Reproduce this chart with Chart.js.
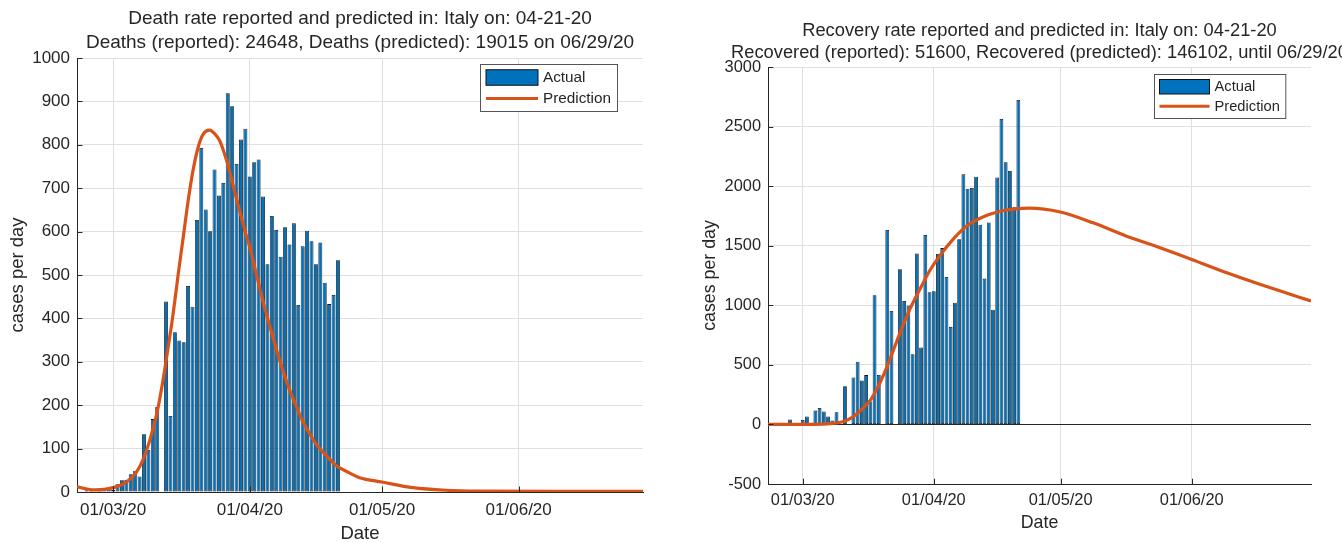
<!DOCTYPE html>
<html>
<head>
<meta charset="utf-8">
<title>Italy deaths and recoveries</title>
<script src="https://cdn.jsdelivr.net/npm/chart.js@4.4.1/dist/chart.umd.min.js"></script>
<style>
  html, body { margin: 0; padding: 0; background: #fff; }
  body { width: 1342px; height: 543px; position: relative; overflow: hidden; }
  .panel { position: absolute; top: 0; height: 543px; }
  #deathsBox { left: 0; width: 671px; }
  #recovBox { left: 694px; width: 648px; }
</style>
</head>
<body>
<div class="panel" id="deathsBox"><canvas id="deaths"></canvas></div>
<div class="panel" id="recovBox"><canvas id="recov"></canvas></div>
<script>
/* global Chart */

// ---------------------- Data ----------------------
// x is measured in days, day 0 = 1 March 2020; bars start on 22 Feb (day -8)
const firstBarDay = -8;

const monthTickDays = [0, 31, 61, 92];
const monthTickLabels = ["01/03/20", "01/04/20", "01/05/20", "01/06/20"];

// daily deaths, 22 Feb .. 21 Apr
const deathsDaily = [
  1, 1, 4, 3, 2, 5, 4, 8,
  5, 18, 27, 28, 41, 49, 36, 133, 97, 168, 196, 0, 439, 175, 368, 349, 345, 475,
  427, 627, 793, 651, 601, 743, 683, 712, 919, 889, 756, 812, 837,
  727, 760, 766, 681, 525, 636, 604, 542, 610, 570, 619, 431, 566, 602, 578,
  525, 575, 482, 433, 454, 534
];

// daily recoveries, 22 Feb .. 21 Apr
const recoveredDaily = [
  1, 1, 0, 0, 2, 42, 1, 0,
  37, 66, 11, 116, 138, 109, 66, 33, 102, 0, 321, 0, 394, 527, 369, 414, 192, 1084,
  415, 0, 1632, 952, 0, 1302, 1036, 999, 589, 1434, 646, 1590, 1109,
  1118, 1431, 1480, 1238, 819, 1022, 1555, 2099, 1979, 1985, 2079, 1677, 1224, 1695, 962,
  2072, 2563, 2200, 2128, 1822, 2723
];

// fitted death-rate curve
const deathPredDays = [
  -8.2, -6, -4, -2, 0, 1.5, 3, 5.3, 7, 8.3, 10, 11.3, 12.5, 13.6, 14.8, 15.9, 17, 18.1,
  19.3, 20.4, 21.9, 23, 24.2, 25.3, 26.4, 27.5, 28.7, 29.8, 31, 32.1, 33.2, 34.3, 35.5,
  37, 38.5, 40, 41.6, 43, 44.6, 46, 47.6, 49, 50.6, 53.6, 55.9, 61, 68, 75.5, 83, 100, 120.2
];
const deathPredValues = [
  12, 7, 5, 6, 10, 15, 23, 46, 80, 119, 185, 257, 335, 410, 505, 587, 670, 740,
  795, 824, 834, 826, 809, 778, 740, 695, 648, 605, 564, 518, 472, 427, 383,
  330, 280, 236, 196, 163, 134, 111, 92, 77, 61, 44, 33, 23, 10, 4, 2, 1.5, 1.5
];

// fitted recovery-rate curve
const recPredDays = [
  -8.2, 0, 5.8, 9.7, 11.5, 12.9, 14.5, 16, 17.2, 18.4, 19.6, 20.7, 21.9, 23.1, 24.3,
  25.4, 27.8, 30.1, 32.5, 35.7, 38.8, 43.6, 48.3, 53.5, 60.9, 68.7, 76.6, 84.5, 92,
  100.3, 108.1, 120.2
];
const recPredValues = [
  0, 1, 5, 25, 55, 92, 145, 204, 275, 358, 455, 553, 665, 777, 880,
  972, 1140, 1294, 1419, 1559, 1665, 1755, 1800, 1815, 1783, 1692, 1580, 1483, 1385,
  1273, 1176, 1037
];

// ---------------------- Styles ----------------------
const FONT = '"Liberation Sans", Arial, Helvetica, sans-serif';
const TEXT = "#262626";
const AXIS = "#262626";
const GRID = "#dfdfdf";
const BAR_BLUE = "#0072BD";
const BAR_EDGE = "#111111";
const LINE_ORANGE = "#D95319";

Chart.defaults.font.family = FONT;
Chart.defaults.color = TEXT;

const toPoints = (xs, ys) => ys.map((y, i) => ({ x: xs[i], y }));
const barPoints = (values) => values.map((y, i) => ({ x: firstBarDay + i, y }));

// ---------------------- Plugins ----------------------

// title centred on the plot area (matlab style)
const plotTitle = {
  id: "plotTitle",
  afterDraw(chart, _args, opts) {
    const { ctx, chartArea: a } = chart;
    ctx.save();
    ctx.font = `${opts.size}px ${FONT}`;
    ctx.fillStyle = TEXT;
    ctx.textAlign = "center";
    ctx.textBaseline = "middle";
    const cx = (a.left + a.right) / 2;
    opts.lines.forEach((t, i) => ctx.fillText(t, cx, opts.y[i]));
    ctx.restore();
  }
};

// short ticks pointing into the plot
const inwardTicks = {
  id: "inwardTicks",
  afterDatasetsDraw(chart, _args, opts) {
    const { ctx, chartArea: a, scales: { x, y } } = chart;
    const len = opts.len || 5;
    ctx.save();
    ctx.strokeStyle = AXIS;
    ctx.lineWidth = 1;
    ctx.beginPath();
    x.ticks.forEach(t => {
      const px = Math.round(x.getPixelForValue(t.value)) + 0.5;
      ctx.moveTo(px, a.bottom);
      ctx.lineTo(px, a.bottom - len);
    });
    y.ticks.forEach(t => {
      const py = Math.round(y.getPixelForValue(t.value)) + 0.5;
      ctx.moveTo(a.left, py);
      ctx.lineTo(a.left + len, py);
    });
    ctx.stroke();
    ctx.restore();
  }
};

// boxed legend in the north-east corner
const boxLegend = {
  id: "boxLegend",
  afterDraw(chart, _args, o) {
    const { ctx, chartArea: a } = chart;
    const items = chart.data.datasets.slice().sort((p, q) => p.legendOrder - q.legendOrder);
    ctx.save();
    ctx.font = `${o.size}px ${FONT}`;
    const textW = Math.max(...items.map(d => ctx.measureText(d.label).width));
    const w = o.pad + o.swatch + o.gap + textW + o.pad + 1;
    const h = items.length * o.row + 2 * o.padY;
    const x0 = Math.round(a.right - o.inset - w) + 0.5;
    const y0 = Math.round(a.top + o.insetTop) + 0.5;
    ctx.fillStyle = "#fff";
    ctx.fillRect(x0, y0, w, h);
    ctx.strokeStyle = "#555";
    ctx.lineWidth = 1;
    ctx.strokeRect(x0, y0, w, h);
    items.forEach((d, i) => {
      const cy = y0 + o.padY + o.row * (i + 0.5);
      const sx = x0 + o.pad;
      if (d.type === "bar") {
        ctx.fillStyle = d.backgroundColor;
        ctx.fillRect(sx, cy - o.swatchH / 2, o.swatch, o.swatchH);
        ctx.strokeStyle = BAR_EDGE;
        ctx.strokeRect(sx, cy - o.swatchH / 2, o.swatch, o.swatchH);
      } else {
        ctx.strokeStyle = d.borderColor;
        ctx.lineWidth = d.borderWidth;
        ctx.beginPath();
        ctx.moveTo(sx, cy);
        ctx.lineTo(sx + o.swatch, cy);
        ctx.stroke();
        ctx.lineWidth = 1;
      }
      ctx.fillStyle = TEXT;
      ctx.textAlign = "left";
      ctx.textBaseline = "middle";
      ctx.fillText(d.label, sx + o.swatch + o.gap, cy + 0.5);
    });
    ctx.restore();
  }
};

// ---------------------- Chart helpers ----------------------

function buildOptions(p) {
  return {
    animation: false,
    responsive: true,
    maintainAspectRatio: false,
    layout: { padding: p.padding },
    plugins: {
      legend: { display: false },
      title: { display: false },
      tooltip: { enabled: false },
      plotTitle: { lines: p.titleLines, y: p.titleY, size: p.titleSize },
      inwardTicks: { len: p.tickLen },
      boxLegend: p.legend
    },
    scales: {
      x: {
        type: "linear",
        min: p.xMin,
        max: p.xMax,
        offset: false,
        afterBuildTicks: (s) => { s.ticks = monthTickDays.map(v => ({ value: v })); },
        afterFit: (s) => { s.height = p.xAxisH; },
        ticks: {
          autoSkip: false,
          maxRotation: 0,
          padding: p.xTickPad,
          color: TEXT,
          font: { size: p.tickSize },
          callback: (v) => monthTickLabels[monthTickDays.indexOf(v)] ?? ""
        },
        grid: { color: GRID, drawTicks: false, offset: false },
        border: { color: AXIS, width: 1 },
        title: {
          display: true, text: "Date", color: TEXT,
          font: { size: p.labelSize, lineHeight: 1 }, padding: 0
        }
      },
      y: {
        min: p.yMin,
        max: p.yMax,
        afterFit: (s) => { s.width = p.yAxisW; },
        ticks: {
          stepSize: p.yStep,
          padding: 7,
          color: TEXT,
          font: { size: p.tickSize },
          callback: (v) => String(v)
        },
        grid: {
          drawTicks: false,
          color: (c) => (c.tick && c.tick.value === 0 && p.yMin < 0) ? AXIS : GRID
        },
        border: { color: AXIS, width: 1 },
        title: {
          display: true, text: "cases per day", color: TEXT,
          font: { size: p.labelSize, lineHeight: 1 },
          padding: { top: p.yTitlePad, bottom: 0 }
        }
      }
    }
  };
}

function makeDatasets(barValues, predDays, predValues) {
  return [
    {
      type: "line",
      label: "Prediction",
      legendOrder: 2,
      order: 0,
      data: toPoints(predDays, predValues),
      borderColor: LINE_ORANGE,
      backgroundColor: LINE_ORANGE,
      borderWidth: 3.2,
      pointRadius: 0,
      cubicInterpolationMode: "monotone",
      fill: false
    },
    {
      type: "bar",
      label: "Actual",
      legendOrder: 1,
      order: 1,
      data: barPoints(barValues),
      backgroundColor: BAR_BLUE,
      borderColor: BAR_EDGE,
      borderWidth: 0.8,
      borderSkipped: false,
      barPercentage: 0.9,
      categoryPercentage: 1.0
    }
  ];
}

function renderChart(canvas, datasets, options) {
  if (canvas._chart) canvas._chart.destroy();
  canvas._chart = new Chart(canvas.getContext("2d"), {
    type: "line",
    data: { datasets },
    options,
    plugins: [plotTitle, inwardTicks, boxLegend]
  });
}

// ---------------------- Left: deaths ----------------------
renderChart(
  document.getElementById("deaths"),
  makeDatasets(deathsDaily, deathPredDays, deathPredValues),
  buildOptions({
    padding: { top: 58, right: 28, bottom: 0, left: 0 },
    titleLines: [
      "Death rate reported and predicted in: Italy on: 04-21-20",
      "Deaths (reported): 24648, Deaths (predicted): 19015 on 06/29/20"
    ],
    titleY: [19, 43],
    titleSize: 19,
    tickSize: 17,
    labelSize: 18.5,
    tickLen: 5.5,
    xMin: -8.2, xMax: 120.2,
    yMin: 0, yMax: 1000, yStep: 100,
    xAxisH: 51, xTickPad: 8,
    yAxisW: 77, yTitlePad: 8.5,
    legend: { size: 15.3, pad: 5.5, swatch: 52, gap: 5, inset: 26, insetTop: 6, row: 21, padY: 2.5, swatchH: 15.5 }
  })
);

// ---------------------- Right: recoveries ----------------------
renderChart(
  document.getElementById("recov"),
  makeDatasets(recoveredDaily, recPredDays, recPredValues),
  buildOptions({
    padding: { top: 67, right: 31, bottom: 11, left: 0 },
    titleLines: [
      "Recovery rate reported and predicted in: Italy on: 04-21-20",
      "Recovered (reported): 51600, Recovered (predicted): 146102, until 06/29/20"
    ],
    titleY: [31, 53],
    titleSize: 18.3,
    tickSize: 16.4,
    labelSize: 17.8,
    tickLen: 5.3,
    xMin: -8.2, xMax: 120.2,
    yMin: -500, yMax: 3000, yStep: 500,
    xAxisH: 48, xTickPad: 7,
    yAxisW: 74, yTitlePad: 7,
    legend: { size: 14.7, pad: 5, swatch: 50, gap: 5, inset: 26, insetTop: 7, row: 19.5, padY: 2.5, swatchH: 14.5 }
  })
);
</script>
</body>
</html>
